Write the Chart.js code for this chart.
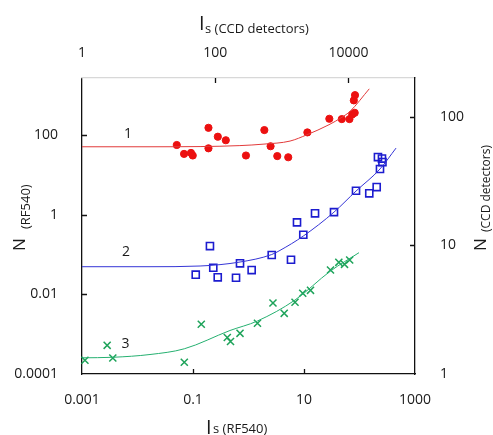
<!DOCTYPE html>
<html>
<head>
<meta charset="utf-8">
<script src="https://cdn.jsdelivr.net/npm/chart.js@4.4.0/dist/chart.umd.min.js"></script>
<style>
  html, body { margin: 0; padding: 0; background: #fff; }
  #wrap { width: 493px; height: 435px; position: relative; }
</style>
</head>
<body>
<div id="wrap"><canvas id="chart"></canvas></div>
<script>
// set 1 - red dots
const set1I = [0.051, 0.069, 0.092, 0.099, 0.19, 0.19, 0.28, 0.39, 0.90, 1.93, 2.5, 3.3, 5.2, 11.5, 28.6, 48, 66, 74, 82, 79, 83];
const set1N = [57, 34, 36, 31, 154, 47, 92, 75, 31, 135, 53, 30, 28, 118, 260, 255, 255, 335, 367, 753, 1020];
const fit1I = [0.001, 0.0168, 0.134, 0.70, 1.9, 5.6, 11.3, 28.2, 48, 67.5, 150];
const fit1N = [51.4, 51.4, 52, 55, 60, 71.5, 103, 184, 282, 399, 1470];

// set 2 - blue squares
const set2I = [0.112, 0.202, 0.232, 0.279, 0.596, 0.703, 1.14, 2.62, 5.83, 7.48, 9.71, 15.8, 34.7, 86.5, 150, 204, 234, 215, 254, 259];
const set2N = [0.0313, 0.164, 0.0469, 0.0269, 0.0263, 0.0604, 0.041, 0.0977, 0.0745, 0.647, 0.316, 1.09, 1.17, 4.04, 3.47, 4.99, 14.2, 28.3, 26.0, 21.2];
const fit2I = [0.001, 0.0168, 0.134, 0.703, 2.62, 3.70, 9.71, 34.7, 86.5, 234, 455];
const fit2N = [0.0497, 0.0497, 0.0518, 0.0652, 0.1006, 0.128, 0.293, 1.17, 3.96, 14.2, 47.6];

// set 3 - green crosses
const set3I = [0.00113, 0.00284, 0.00359, 0.0697, 0.141, 0.415, 0.474, 0.703, 1.45, 2.76, 4.40, 6.89, 9.48, 13.1, 30.0, 42.4, 53.7, 66.5];
const set3N = [0.000221, 0.000526, 0.000252, 0.000198, 0.00178, 0.000826, 0.000656, 0.00105, 0.00188, 0.00608, 0.00335, 0.00637, 0.01067, 0.01268, 0.041, 0.0641, 0.057, 0.0731];
const fit3I = [0.001, 0.0036, 0.0168, 0.0697, 0.464, 1.45, 6.89, 30.0, 98];
const fit3N = [0.000255, 0.000263, 0.000309, 0.00043, 0.00124, 0.00215, 0.00723, 0.0387, 0.112];

// axis ticks
const bottomTicks = [0.001, 0.1, 10, 1000];
const leftTicks = [0.0001, 0.01, 1, 100];
const topTicks = [1, 100, 10000];
const rightTicks = [1, 10, 100];

// curve numbers
const curveNames = ['1', '2', '3'];
const nameI = [0.00674, 0.00621, 0.00608];
const nameN = [107, 0.118, 0.000568];

const FONT = "'Open Sans', sans-serif";

function pts(xs, ys) {
  return xs.map((x, i) => ({ x: x, y: ys[i] }));
}

function logAxis(position, min, max, tickVals, pad, size, borderColor) {
  return {
    type: 'logarithmic',
    position: position,
    min: min,
    max: max,
    grid: { display: false },
    border: { display: true, color: borderColor, width: 1.3 },
    afterBuildTicks: s => { s.ticks = tickVals.map(v => ({ value: v })); },
    afterFit: s => {
      if (position === 'top' || position === 'bottom') s.height = size;
      else s.width = size;
    },
    ticks: {
      autoSkip: false,
      maxRotation: 0,
      padding: pad,
      color: '#1a1a1a',
      font: { family: FONT, size: 14 },
      callback: v => String(v)
    }
  };
}

// inward tick marks, axis titles and curve numbers
const decorPlugin = {
  id: 'decor',
  afterDraw(chart) {
    const ctx = chart.ctx;
    const a = chart.chartArea;
    const sc = chart.scales;
    ctx.save();
    ctx.strokeStyle = '#111';
    ctx.lineWidth = 1.3;
    const len = 5;
    ctx.beginPath();
    sc.x.ticks.forEach(t => {
      if (t.value === sc.x.min || t.value === sc.x.max) return;
      const p = Math.round(sc.x.getPixelForValue(t.value)) + 0.5;
      ctx.moveTo(p, a.bottom); ctx.lineTo(p, a.bottom - len);
    });
    sc.x2.ticks.forEach(t => {
      if (t.value === sc.x2.min || t.value === sc.x2.max) return;
      const p = Math.round(sc.x2.getPixelForValue(t.value)) + 0.5;
      ctx.moveTo(p, a.top); ctx.lineTo(p, a.top + len);
    });
    sc.y.ticks.forEach(t => {
      if (t.value === sc.y.min || t.value === sc.y.max) return;
      const p = Math.round(sc.y.getPixelForValue(t.value)) + 0.5;
      ctx.moveTo(a.left, p); ctx.lineTo(a.left + len, p);
    });
    sc.y2.ticks.forEach(t => {
      if (t.value === sc.y2.min || t.value === sc.y2.max) return;
      const p = Math.round(sc.y2.getPixelForValue(t.value)) + 0.5;
      ctx.moveTo(a.right, p); ctx.lineTo(a.right - len, p);
    });
    ctx.stroke();

    ctx.fillStyle = '#1a1a1a';
    ctx.textBaseline = 'alphabetic';
    ctx.textAlign = 'left';

    // top title
    ctx.font = '20px ' + FONT;
    ctx.fillText('I', 199, 30);
    ctx.font = '13px ' + FONT;
    ctx.fillText('s (CCD detectors)', 205, 33);

    // bottom title
    ctx.font = '20px ' + FONT;
    ctx.fillText('I', 206, 434);
    ctx.font = '13px ' + FONT;
    ctx.fillText('s (RF540)', 213, 433);

    // left title
    ctx.save();
    ctx.translate(25, 251);
    ctx.rotate(-Math.PI / 2);
    ctx.font = '17px ' + FONT;
    ctx.fillText('N', 0, 0);
    ctx.font = '13px ' + FONT;
    ctx.fillText('(RF540)', 22, 5);
    ctx.restore();

    // right title
    ctx.save();
    ctx.translate(486, 251);
    ctx.rotate(-Math.PI / 2);
    ctx.font = '17px ' + FONT;
    ctx.fillText('N', 0, 0);
    ctx.font = '12px ' + FONT;
    ctx.fillText('(CCD detectors)', 19, 4);
    ctx.restore();

    // curve numbers
    ctx.font = '14px ' + FONT;
    ctx.textAlign = 'center';
    ctx.textBaseline = 'middle';
    curveNames.forEach((n, i) => {
      ctx.fillText(n, sc.x.getPixelForValue(nameI[i]), sc.y.getPixelForValue(nameN[i]));
    });
    ctx.restore();
  }
};

const lineStyle = { showLine: true, pointRadius: 0, borderWidth: 1, cubicInterpolationMode: 'monotone', fill: false };

new Chart(document.getElementById('chart'), {
  type: 'scatter',
  data: {
    datasets: [
      Object.assign({ data: pts(fit1I, fit1N), borderColor: '#e23a3a' }, lineStyle),
      Object.assign({ data: pts(fit2I, fit2N), borderColor: '#3535d6' }, lineStyle),
      Object.assign({ data: pts(fit3I, fit3N), borderColor: '#25b070' }, lineStyle),
      {
        data: pts(set1I, set1N),
        pointStyle: 'circle', pointRadius: 3.6,
        backgroundColor: '#ec1010', borderColor: '#ec1010', borderWidth: 1
      },
      {
        data: pts(set2I, set2N),
        pointStyle: 'rect', pointRadius: 5,
        backgroundColor: 'rgba(0,0,0,0)', borderColor: '#1c1ccf', borderWidth: 1.6
      },
      {
        data: pts(set3I, set3N),
        pointStyle: 'crossRot', pointRadius: 5,
        borderColor: '#1ea35a', borderWidth: 1.5, clip: false
      }
    ]
  },
  options: {
    responsive: true,
    maintainAspectRatio: false,
    animation: false,
    layout: { padding: 0 },
    plugins: {
      legend: { display: false },
      tooltip: { enabled: false }
    },
    scales: {
      x: logAxis('bottom', 0.001, 1000, bottomTicks, 10, 61, '#111'),
      y: logAxis('left', 0.0001, 2750, leftTicks, 16, 82, '#111'),
      x2: logAxis('top', 1, 100000, topTicks, 9, 78, '#d8d8d8'),
      y2: logAxis('right', 1, 201, rightTicks, 17, 78, '#111')
    }
  },
  plugins: [decorPlugin]
});
</script>
</body>
</html>
